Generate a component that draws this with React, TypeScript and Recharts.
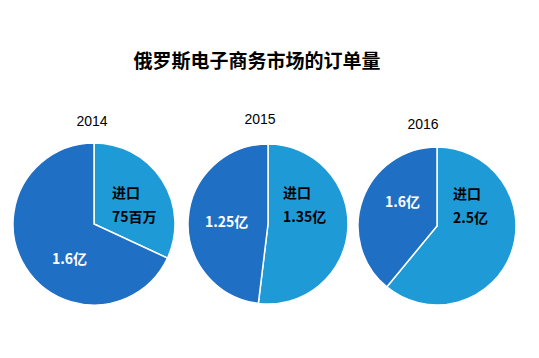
import React from 'react';
import { PieChart, Pie, Cell } from 'recharts';

const TITLE = '俄罗斯电子商务市场的订单量';
const YEARS = ['2014', '2015', '2016'];
const SLICE_NAMES = ['进口', '国内'];
const IMPORT_VALUES = [0.75, 1.35, 2.5]; // 亿
const DOMESTIC_VALUES = [1.6, 1.25, 1.6]; // 亿
const IMPORT_LABELS = ['75百万', '1.35亿', '2.5亿'];
const DOMESTIC_LABELS = ['1.6亿', '1.25亿', '1.6亿'];

const COLORS = ['#1E9BD7', '#1F6FC5'];
const FONT_CJK = '"Noto Sans CJK SC", "Noto Sans", sans-serif';

// layout: pie geometry and label offsets (relative to pie centre)
const PIE_LAYOUT = [
  { cx: 94, cy: 224, r: 81, yearX: 92, yearY: 121, labels: [{ dx: 18, dy: -32 }, { dx: -42, dy: 34 }] },
  { cx: 268, cy: 224, r: 80, yearX: 260, yearY: 119, labels: [{ dx: 15, dy: -32 }, { dx: -63, dy: -3 }] },
  { cx: 437, cy: 226, r: 79, yearX: 423, yearY: 124, labels: [{ dx: 16, dy: -33 }, { dx: -52, dy: -25 }] },
];

const pieData = YEARS.map((y, i) => [
  { name: SLICE_NAMES[0], value: IMPORT_VALUES[i], text: IMPORT_LABELS[i] },
  { name: SLICE_NAMES[1], value: DOMESTIC_VALUES[i], text: DOMESTIC_LABELS[i] },
]);

const makeLabel = (pi: number) => (props: any) => {
  const { cx, cy, index, payload } = props;
  const off = PIE_LAYOUT[pi].labels[index];
  const x = cx + off.dx;
  const y = cy + off.dy;
  const item = payload && payload.payload ? payload.payload : payload;
  if (index === 0) {
    return (
      <g key={`l-${pi}-${index}`}>
        <text x={x} y={y} fill="#000" fontSize={14} fontWeight="bold" fontFamily={FONT_CJK} dominantBaseline="central" textAnchor="start">
          {item.name}
        </text>
        <text x={x} y={y + 24} fill="#000" fontSize={14} fontWeight="bold" fontFamily={FONT_CJK} dominantBaseline="central" textAnchor="start">
          {item.text}
        </text>
      </g>
    );
  }
  return (
    <text key={`l-${pi}-${index}`} x={x} y={y} fill="#fff" fontSize={14} fontWeight="bold" fontFamily={FONT_CJK} dominantBaseline="central" textAnchor="start">
      {item.text}
    </text>
  );
};

export default function App() {
  return (
    <div style={{ position: 'absolute', left: 0, top: 0, width: 539, height: 358, background: '#fff' }}>
      <PieChart width={539} height={358} margin={{ top: 0, right: 0, bottom: 0, left: 0 }}>
        {pieData.map((d, pi) => (
          <Pie
            key={YEARS[pi]}
            data={d}
            dataKey="value"
            nameKey="name"
            cx={PIE_LAYOUT[pi].cx}
            cy={PIE_LAYOUT[pi].cy}
            outerRadius={PIE_LAYOUT[pi].r}
            innerRadius={0}
            startAngle={90}
            endAngle={-270}
            stroke="#fff"
            strokeWidth={1.5}
            labelLine={false}
            label={makeLabel(pi)}
            isAnimationActive={false}
          >
            {d.map((_, i) => (
              <Cell key={i} fill={COLORS[i]} />
            ))}
          </Pie>
        ))}
      </PieChart>
      <div
        style={{
          position: 'absolute', left: 0, width: 514, top: 48, textAlign: 'center',
          fontFamily: FONT_CJK, fontWeight: 'bold', fontSize: 19, lineHeight: '24px', color: '#000',
        }}
      >
        {TITLE}
      </div>
      {YEARS.map((y, i) => (
        <div
          key={y}
          style={{
            position: 'absolute', left: PIE_LAYOUT[i].yearX - 30, width: 60, top: PIE_LAYOUT[i].yearY - 9,
            textAlign: 'center', fontFamily: '"Liberation Sans", Arial, sans-serif', fontSize: 14, lineHeight: '18px', color: '#000',
          }}
        >
          {y}
        </div>
      ))}
    </div>
  );
}
